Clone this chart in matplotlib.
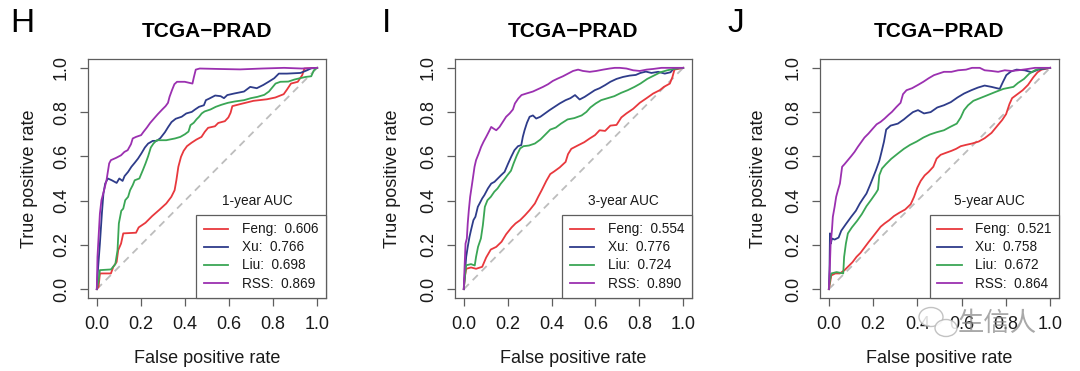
import matplotlib
matplotlib.use("Agg")
import matplotlib.pyplot as plt
from matplotlib.patches import Ellipse
from matplotlib.transforms import IdentityTransform

plt.rcParams['font.family'] = ['Liberation Sans', 'DejaVu Sans']

# ---------------- data ----------------
panel_letters = ["H", "I", "J"]
panel_title = "TCGA\u2212PRAD"
horizon_labels = ["1-year AUC", "3-year AUC", "5-year AUC"]
models = ["Feng", "Xu", "Liu", "RSS"]
auc_1y = [0.606, 0.766, 0.698, 0.869]
auc_3y = [0.554, 0.776, 0.724, 0.890]
auc_5y = [0.521, 0.758, 0.672, 0.864]
tick_values = [0.0, 0.2, 0.4, 0.6, 0.8, 1.0]
tick_labels = ["0.0", "0.2", "0.4", "0.6", "0.8", "1.0"]
x_label = "False positive rate"
y_label = "True positive rate"
watermark = "生信人"

# ---- 1-year ROC curves ----
feng_1y_fpr = [0, 0.008, 0.014, 0.064, 0.075, 0.090, 0.097, 0.110, 0.120, 0.178, 0.190, 0.221, 0.251, 0.282, 0.315, 0.338, 0.353, 0.361, 0.370, 0.382, 0.394, 0.409, 0.429, 0.452, 0.475, 0.490, 0.505, 0.536, 0.551, 0.581, 0.597, 0.607, 0.615, 0.650, 0.711, 0.772, 0.810, 0.848, 0.863, 0.881, 0.912, 0.932, 0.942, 1.0]
feng_1y_tpr = [0, 0.011, 0.071, 0.071, 0.101, 0.123, 0.176, 0.206, 0.252, 0.255, 0.279, 0.300, 0.330, 0.357, 0.387, 0.417, 0.447, 0.492, 0.553, 0.598, 0.625, 0.646, 0.661, 0.676, 0.688, 0.711, 0.729, 0.736, 0.751, 0.759, 0.776, 0.797, 0.827, 0.836, 0.851, 0.858, 0.866, 0.881, 0.902, 0.929, 0.937, 0.967, 0.997, 1.0]
xu_1y_fpr = [0, 0.005, 0.014, 0.023, 0.030, 0.038, 0.050, 0.068, 0.090, 0.102, 0.117, 0.126, 0.142, 0.157, 0.172, 0.187, 0.202, 0.218, 0.233, 0.254, 0.272, 0.288, 0.309, 0.324, 0.339, 0.358, 0.385, 0.406, 0.431, 0.446, 0.464, 0.486, 0.495, 0.510, 0.537, 0.562, 0.577, 0.592, 0.623, 0.668, 0.696, 0.726, 0.756, 0.781, 0.805, 0.826, 0.863, 0.924, 0.954, 0.973, 1.0]
xu_1y_tpr = [0, 0.086, 0.206, 0.342, 0.432, 0.477, 0.500, 0.492, 0.480, 0.500, 0.489, 0.511, 0.530, 0.553, 0.571, 0.590, 0.613, 0.640, 0.658, 0.670, 0.670, 0.682, 0.709, 0.733, 0.755, 0.770, 0.779, 0.794, 0.801, 0.812, 0.824, 0.831, 0.854, 0.861, 0.875, 0.872, 0.863, 0.877, 0.884, 0.893, 0.914, 0.908, 0.923, 0.938, 0.953, 0.974, 0.974, 0.977, 0.989, 0.998, 1.0]
liu_1y_fpr = [0, 0.008, 0.014, 0.064, 0.084, 0.094, 0.100, 0.111, 0.120, 0.129, 0.142, 0.151, 0.163, 0.172, 0.193, 0.209, 0.221, 0.233, 0.245, 0.257, 0.272, 0.315, 0.355, 0.379, 0.400, 0.416, 0.425, 0.440, 0.452, 0.464, 0.476, 0.489, 0.516, 0.540, 0.565, 0.595, 0.626, 0.668, 0.699, 0.729, 0.760, 0.781, 0.796, 0.811, 0.833, 0.869, 0.896, 0.921, 0.948, 0.973, 0.985, 1.0]
liu_1y_tpr = [0, 0.038, 0.086, 0.089, 0.113, 0.176, 0.297, 0.354, 0.364, 0.402, 0.417, 0.447, 0.470, 0.492, 0.500, 0.538, 0.568, 0.601, 0.640, 0.658, 0.673, 0.673, 0.681, 0.688, 0.700, 0.712, 0.741, 0.752, 0.767, 0.779, 0.794, 0.803, 0.812, 0.824, 0.833, 0.842, 0.848, 0.854, 0.863, 0.869, 0.878, 0.893, 0.911, 0.929, 0.937, 0.938, 0.947, 0.953, 0.959, 0.962, 0.989, 1.0]
rss_1y_fpr = [0, 0.003, 0.008, 0.014, 0.021, 0.033, 0.044, 0.056, 0.064, 0.087, 0.110, 0.125, 0.140, 0.155, 0.163, 0.178, 0.201, 0.212, 0.227, 0.242, 0.262, 0.277, 0.297, 0.312, 0.323, 0.330, 0.341, 0.352, 0.364, 0.399, 0.434, 0.440, 0.449, 0.467, 0.55, 0.65, 0.75, 0.85, 0.93, 1.0]
rss_1y_tpr = [0, 0.146, 0.236, 0.342, 0.402, 0.447, 0.492, 0.568, 0.583, 0.593, 0.605, 0.620, 0.628, 0.655, 0.681, 0.688, 0.696, 0.711, 0.730, 0.751, 0.774, 0.791, 0.812, 0.827, 0.842, 0.869, 0.899, 0.926, 0.937, 0.937, 0.929, 0.956, 0.992, 0.997, 0.995, 0.993, 0.997, 1.0, 0.997, 1.0]

# ---- 3-year ROC curves ----
feng_3y_fpr = [0, 0.005, 0.011, 0.033, 0.056, 0.084, 0.102, 0.123, 0.148, 0.172, 0.193, 0.218, 0.236, 0.257, 0.279, 0.300, 0.324, 0.339, 0.355, 0.376, 0.394, 0.412, 0.437, 0.464, 0.475, 0.490, 0.519, 0.549, 0.574, 0.598, 0.619, 0.644, 0.668, 0.696, 0.718, 0.741, 0.772, 0.802, 0.833, 0.863, 0.893, 0.912, 0.939, 0.951, 0.960, 1.0]
feng_3y_tpr = [0, 0.056, 0.092, 0.098, 0.092, 0.101, 0.143, 0.179, 0.191, 0.214, 0.248, 0.279, 0.297, 0.312, 0.334, 0.357, 0.387, 0.417, 0.447, 0.489, 0.520, 0.532, 0.550, 0.575, 0.610, 0.634, 0.649, 0.664, 0.681, 0.696, 0.718, 0.715, 0.739, 0.742, 0.776, 0.794, 0.815, 0.842, 0.863, 0.884, 0.899, 0.914, 0.929, 0.959, 0.992, 1.0]
xu_3y_fpr = [0, 0.005, 0.011, 0.018, 0.026, 0.033, 0.044, 0.053, 0.064, 0.072, 0.084, 0.094, 0.110, 0.125, 0.140, 0.155, 0.170, 0.186, 0.201, 0.216, 0.231, 0.247, 0.262, 0.269, 0.277, 0.288, 0.300, 0.315, 0.330, 0.349, 0.370, 0.391, 0.414, 0.437, 0.464, 0.486, 0.507, 0.528, 0.551, 0.574, 0.597, 0.619, 0.644, 0.668, 0.696, 0.726, 0.756, 0.784, 0.805, 0.830, 0.855, 0.886, 0.916, 0.942, 0.957, 1.0]
xu_3y_tpr = [0, 0.071, 0.146, 0.191, 0.236, 0.267, 0.312, 0.327, 0.372, 0.387, 0.410, 0.425, 0.455, 0.477, 0.485, 0.500, 0.515, 0.530, 0.565, 0.598, 0.628, 0.646, 0.651, 0.688, 0.718, 0.752, 0.779, 0.785, 0.771, 0.779, 0.794, 0.809, 0.824, 0.839, 0.854, 0.863, 0.877, 0.857, 0.869, 0.884, 0.899, 0.908, 0.922, 0.937, 0.950, 0.959, 0.965, 0.968, 0.977, 0.983, 0.977, 0.982, 0.974, 0.980, 0.997, 1.0]
liu_3y_fpr = [0, 0.005, 0.011, 0.033, 0.050, 0.056, 0.065, 0.078, 0.087, 0.096, 0.108, 0.123, 0.139, 0.154, 0.169, 0.184, 0.199, 0.215, 0.227, 0.242, 0.257, 0.272, 0.297, 0.324, 0.349, 0.373, 0.394, 0.419, 0.443, 0.473, 0.504, 0.537, 0.559, 0.577, 0.601, 0.626, 0.656, 0.686, 0.717, 0.747, 0.778, 0.805, 0.836, 0.866, 0.896, 0.927, 0.957, 1.0]
liu_3y_tpr = [0, 0.056, 0.108, 0.113, 0.107, 0.146, 0.191, 0.229, 0.289, 0.372, 0.402, 0.417, 0.440, 0.455, 0.477, 0.495, 0.515, 0.535, 0.568, 0.605, 0.636, 0.646, 0.649, 0.658, 0.676, 0.700, 0.721, 0.730, 0.748, 0.767, 0.773, 0.785, 0.801, 0.821, 0.839, 0.854, 0.863, 0.872, 0.887, 0.899, 0.914, 0.929, 0.950, 0.965, 0.980, 0.989, 0.995, 1.0]
rss_3y_fpr = [0, 0.003, 0.008, 0.014, 0.018, 0.023, 0.029, 0.038, 0.049, 0.056, 0.068, 0.079, 0.090, 0.102, 0.114, 0.125, 0.135, 0.148, 0.163, 0.178, 0.193, 0.209, 0.224, 0.233, 0.248, 0.263, 0.285, 0.315, 0.339, 0.361, 0.384, 0.406, 0.429, 0.452, 0.475, 0.498, 0.521, 0.543, 0.574, 0.604, 0.635, 0.665, 0.688, 0.711, 0.741, 0.772, 0.802, 0.833, 0.863, 0.901, 0.939, 1.0]
rss_3y_tpr = [0, 0.086, 0.206, 0.229, 0.297, 0.357, 0.417, 0.477, 0.553, 0.583, 0.613, 0.643, 0.666, 0.688, 0.711, 0.733, 0.726, 0.718, 0.733, 0.756, 0.779, 0.794, 0.812, 0.839, 0.861, 0.877, 0.884, 0.893, 0.904, 0.914, 0.926, 0.941, 0.952, 0.962, 0.974, 0.986, 0.992, 0.986, 0.982, 0.986, 0.992, 0.997, 1.0, 1.0, 0.997, 0.989, 0.986, 0.992, 0.995, 1.0, 1.0, 1.0]

# ---- 5-year ROC curves ----
feng_5y_fpr = [0, 0.005, 0.011, 0.029, 0.050, 0.071, 0.089, 0.107, 0.125, 0.143, 0.161, 0.179, 0.198, 0.216, 0.234, 0.252, 0.273, 0.294, 0.318, 0.345, 0.370, 0.385, 0.400, 0.415, 0.433, 0.451, 0.472, 0.487, 0.505, 0.529, 0.554, 0.575, 0.596, 0.620, 0.647, 0.677, 0.704, 0.735, 0.762, 0.783, 0.801, 0.816, 0.828, 0.852, 0.876, 0.900, 0.923, 0.943, 0.961, 1.0]
feng_5y_tpr = [0, 0.026, 0.062, 0.071, 0.071, 0.086, 0.104, 0.122, 0.146, 0.164, 0.188, 0.212, 0.236, 0.259, 0.282, 0.297, 0.312, 0.330, 0.345, 0.360, 0.384, 0.417, 0.459, 0.489, 0.514, 0.530, 0.553, 0.590, 0.607, 0.616, 0.625, 0.634, 0.646, 0.652, 0.658, 0.667, 0.682, 0.706, 0.739, 0.764, 0.791, 0.836, 0.863, 0.881, 0.899, 0.923, 0.956, 0.980, 0.992, 1.0]
xu_5y_fpr = [0, 0.003, 0.005, 0.009, 0.014, 0.026, 0.044, 0.056, 0.077, 0.101, 0.122, 0.140, 0.155, 0.170, 0.186, 0.198, 0.213, 0.228, 0.237, 0.249, 0.259, 0.279, 0.312, 0.339, 0.357, 0.380, 0.403, 0.430, 0.460, 0.490, 0.520, 0.551, 0.581, 0.611, 0.644, 0.674, 0.704, 0.735, 0.772, 0.787, 0.802, 0.822, 0.848, 0.885, 0.916, 0.946, 1.0]
xu_5y_tpr = [0, 0.086, 0.252, 0.206, 0.229, 0.224, 0.233, 0.264, 0.294, 0.327, 0.354, 0.387, 0.410, 0.432, 0.470, 0.500, 0.538, 0.580, 0.616, 0.666, 0.721, 0.739, 0.748, 0.767, 0.782, 0.800, 0.809, 0.794, 0.800, 0.821, 0.831, 0.845, 0.866, 0.884, 0.899, 0.911, 0.920, 0.914, 0.905, 0.937, 0.967, 0.983, 0.992, 0.989, 0.980, 0.992, 1.0]
liu_5y_fpr = [0, 0.005, 0.011, 0.035, 0.065, 0.069, 0.077, 0.086, 0.104, 0.128, 0.149, 0.170, 0.192, 0.213, 0.222, 0.228, 0.240, 0.258, 0.282, 0.312, 0.339, 0.367, 0.397, 0.427, 0.457, 0.487, 0.520, 0.548, 0.578, 0.596, 0.611, 0.629, 0.653, 0.683, 0.713, 0.750, 0.789, 0.834, 0.855, 0.882, 0.906, 0.931, 0.955, 1.0]
liu_5y_tpr = [0, 0.041, 0.071, 0.077, 0.071, 0.146, 0.206, 0.252, 0.279, 0.309, 0.339, 0.375, 0.405, 0.435, 0.450, 0.515, 0.545, 0.565, 0.589, 0.613, 0.634, 0.652, 0.667, 0.685, 0.699, 0.709, 0.718, 0.733, 0.748, 0.776, 0.809, 0.831, 0.851, 0.863, 0.875, 0.890, 0.905, 0.914, 0.932, 0.950, 0.974, 0.989, 0.997, 1.0]
rss_5y_fpr = [0, 0.005, 0.008, 0.014, 0.018, 0.026, 0.033, 0.041, 0.050, 0.056, 0.060, 0.071, 0.086, 0.101, 0.116, 0.131, 0.146, 0.161, 0.179, 0.199, 0.216, 0.234, 0.252, 0.270, 0.285, 0.306, 0.324, 0.335, 0.351, 0.376, 0.403, 0.427, 0.451, 0.475, 0.496, 0.520, 0.554, 0.584, 0.620, 0.647, 0.682, 0.704, 0.735, 0.765, 0.795, 0.825, 0.855, 0.893, 0.931, 1.0]
rss_5y_tpr = [0, 0.116, 0.206, 0.267, 0.327, 0.372, 0.417, 0.447, 0.477, 0.523, 0.553, 0.565, 0.583, 0.601, 0.620, 0.643, 0.664, 0.685, 0.703, 0.726, 0.745, 0.756, 0.771, 0.788, 0.801, 0.824, 0.842, 0.881, 0.899, 0.908, 0.923, 0.937, 0.953, 0.967, 0.974, 0.982, 0.982, 0.989, 0.992, 1.0, 1.0, 0.989, 0.986, 0.982, 0.989, 0.986, 0.989, 0.994, 1.0, 1.0]

curves_1y = [(feng_1y_fpr, feng_1y_tpr), (xu_1y_fpr, xu_1y_tpr), (liu_1y_fpr, liu_1y_tpr), (rss_1y_fpr, rss_1y_tpr)]
curves_3y = [(feng_3y_fpr, feng_3y_tpr), (xu_3y_fpr, xu_3y_tpr), (liu_3y_fpr, liu_3y_tpr), (rss_3y_fpr, rss_3y_tpr)]
curves_5y = [(feng_5y_fpr, feng_5y_tpr), (xu_5y_fpr, xu_5y_tpr), (liu_5y_fpr, liu_5y_tpr), (rss_5y_fpr, rss_5y_tpr)]

# ---------------- style ----------------
colors = ["#E8383D", "#2E3C8A", "#3AA655", "#9B30B0"]
axis_gray = "#5e5e5e"
W, H = 1080, 371
fig = plt.figure(figsize=(W / 100, H / 100), dpi=100)

# axes boxes in pixels: left, right, top, bottom
boxes = [(88, 326, 59, 298), (455, 692, 59, 298), (820, 1059, 59, 298)]
ylabel_x = [-0.245, -0.262, -0.258]
letter_x = [10.5, 382, 727]

all_curves = [curves_1y, curves_3y, curves_5y]
all_aucs = [auc_1y, auc_3y, auc_5y]

for i in range(3):
    l, r, t, b = boxes[i]
    ax = fig.add_axes([l / W, 1 - b / H, (r - l) / W, (b - t) / H])
    ax.set_xlim(-0.04, 1.04)
    ax.set_ylim(-0.04, 1.04)
    ax.plot([0, 1], [0, 1], color="#BDBDBD", lw=1.3, ls=(0, (4, 3)), zorder=1)
    handles = []
    for k, (fpr, tpr) in enumerate(all_curves[i]):
        h, = ax.plot(fpr, tpr, color=colors[k], lw=1.3, zorder=2 + k,
                     label=f"{models[k]}:  {all_aucs[i][k]:.3f}")
        handles.append(h)
    ax.set_xticks(tick_values)
    ax.set_xticklabels(tick_labels)
    ax.set_yticks(tick_values)
    ax.set_yticklabels(tick_labels, rotation=90, va="center")
    ax.tick_params(axis="both", direction="out", length=6, width=0.9,
                   color=axis_gray, labelsize=13, pad=7, labelcolor="#1a1a1a")
    for sp in ax.spines.values():
        sp.set_color(axis_gray)
        sp.set_linewidth(0.9)
    ax.set_xlabel(x_label, fontsize=13, va="center", color="#1a1a1a")
    ax.xaxis.set_label_coords(0.5, -0.255)
    ax.set_ylabel(y_label, fontsize=13, va="center", color="#1a1a1a")
    ax.yaxis.set_label_coords(ylabel_x[i], 0.5)
    ax.set_title(panel_title, fontsize=15, fontweight="bold", y=1.113, pad=0,
                 va="center")
    ax.text(0.71, 0.405, horizon_labels[i], transform=ax.transAxes,
            fontsize=9.8, ha="center", va="center", color="#1a1a1a")
    leg = ax.legend(handles=handles, loc="lower right", bbox_to_anchor=(1, 0),
                    borderaxespad=0, fontsize=9.8, frameon=True, fancybox=False,
                    handlelength=1.8, handletextpad=1.0, borderpad=0.55,
                    labelspacing=0.3)
    leg.get_frame().set_edgecolor(axis_gray)
    leg.get_frame().set_linewidth(0.9)
    leg.get_frame().set_alpha(1)
    for txt in leg.get_texts():
        txt.set_color("#1a1a1a")
    fig.text(letter_x[i] / W, 1 - 32 / H, panel_letters[i], fontsize=24,
             ha="left", va="baseline")

# watermark
tr = IdentityTransform()
fig.patches.append(Ellipse((931, H - 317), 24, 19, transform=tr, fc="white",
                           ec="#b8b8b8", lw=1.0, alpha=0.85, zorder=10))
fig.patches.append(Ellipse((946, H - 328), 22, 17, transform=tr, fc="white",
                           ec="#b8b8b8", lw=1.0, alpha=0.85, zorder=11))
fig.text(958 / W, 1 - 323 / H, watermark, fontsize=19, color="#8c8c8c",
         alpha=0.75, ha="left", va="center",
         family=["Noto Sans CJK SC", "DejaVu Sans"], zorder=12)

fig.savefig("out.png", dpi=100)
